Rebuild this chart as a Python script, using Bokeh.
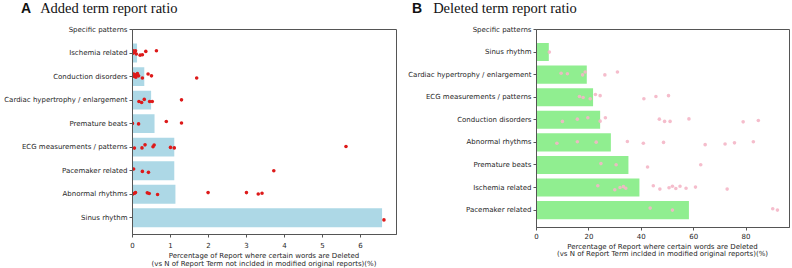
from bokeh.plotting import figure
from bokeh.layouts import row, column
from bokeh.models import Div, FixedTicker, ColumnDataSource
from bokeh.embed import file_html
from bokeh.resources import INLINE

# ---------------- Panel A: added term report ratio ----------------
a_categories = ["Sinus rhythm", "Abnormal rhythms", "Pacemaker related",
                "ECG measurements / patterns", "Premature beats",
                "Cardiac hypertrophy / enlargement", "Conduction disorders",
                "Ischemia related", "Specific patterns"]
a_bar_values = [6.57, 1.13, 1.10, 1.10, 0.58, 0.49, 0.31, 0.12, 0.0]

# per-term ratios shown as points, grouped by category
a_points = {
    "Sinus rhythm": [6.62],
    "Abnormal rhythms": [0.0, 0.05, 0.08, 0.39, 0.44, 0.66, 1.99, 3.0, 3.31, 3.41],
    "Pacemaker related": [0.03, 0.26, 0.42, 3.72],
    "ECG measurements / patterns": [0.05, 0.25, 0.33, 0.54, 0.57, 1.0, 1.1, 5.62],
    "Premature beats": [0.0, 0.16, 0.89, 1.29],
    "Cardiac hypertrophy / enlargement": [0.17, 0.24, 0.31, 0.45, 0.52, 1.29],
    "Conduction disorders": [0.01, 0.03, 0.05, 0.07, 0.09, 0.11, 0.13, 0.16, 0.26, 0.41, 0.5, 1.69],
    "Ischemia related": [0.0, 0.02, 0.05, 0.08, 0.1, 0.2, 0.26, 0.35, 0.63],
}
# strip-plot jitter (in category units) of each point
a_jitter = {
    "Sinus rhythm": [-0.09],
    "Abnormal rhythms": [0.0, 0.04, 0.07, 0.06, 0.03, -0.01, 0.07, 0.07, 0.01, 0.04],
    "Pacemaker related": [0.07, -0.03, -0.07, 0.0],
    "ECG measurements / patterns": [-0.04, -0.03, 0.1, 0.02, 0.09, -0.01, -0.03, 0.03],
    "Premature beats": [0.01, -0.01, 0.09, 0.03],
    "Cardiac hypertrophy / enlargement": [-0.06, -0.1, 0.03, -0.06, -0.06, 0.01],
    "Conduction disorders": [0.04, 0.11, 0.0, 0.07, -0.03, 0.06, 0.13, 0.03, -0.06, 0.11, 0.03, -0.06],
    "Ischemia related": [-0.02, 0.1, 0.03, 0.1, -0.04, -0.09, -0.07, 0.07, 0.1],
}

# ---------------- Panel B: deleted term report ratio ----------------
b_categories = ["Pacemaker related", "Ischemia related", "Premature beats",
                "Abnormal rhythms", "Conduction disorders",
                "ECG measurements / patterns",
                "Cardiac hypertrophy / enlargement", "Sinus rhythm",
                "Specific patterns"]
b_bar_values = [58.2, 39.3, 35.1, 28.4, 24.3, 21.6, 19.2, 4.7, 0.0]

b_points = {
    "Pacemaker related": [43.4, 51.9, 90.2, 92.0],
    "Ischemia related": [23.4, 29.9, 31.9, 33.2, 34.1, 44.6, 47.1, 50.6, 51.9, 53.2, 54.8, 57.1, 60.7, 72.8],
    "Premature beats": [24.6, 30.4, 42.4, 62.7],
    "Abnormal rhythms": [7.8, 15.6, 22.8, 34.7, 40.8, 48.5, 64.4, 72.0, 75.6, 82.8],
    "Conduction disorders": [9.9, 15.6, 19.6, 24.3, 26.3, 46.9, 48.9, 51.0, 58.2, 78.9, 84.7],
    "ECG measurements / patterns": [16.4, 17.8, 20.5, 22.5, 24.3, 41.0, 45.6, 50.4],
    "Cardiac hypertrophy / enlargement": [9.4, 11.8, 17.6, 18.6, 26.1, 30.9],
    "Sinus rhythm": [4.9],
}
b_jitter = {
    "Pacemaker related": [0.09, 0.0, 0.06, 0.0],
    "Ischemia related": [0.08, -0.1, 0.0, 0.04, -0.03, 0.08, -0.07, -0.01, 0.06, -0.04, 0.06, -0.03, 0.02, -0.07],
    "Premature beats": [0.06, 0.01, -0.09, 0.01],
    "Abnormal rhythms": [-0.04, 0.03, 0.01, 0.04, -0.04, 0.0, -0.1, -0.07, -0.02, 0.03],
    "Conduction disorders": [-0.07, 0.03, 0.09, -0.06, 0.09, 0.03, -0.07, -0.07, 0.04, -0.09, -0.03],
    "ECG measurements / patterns": [0.03, -0.01, -0.07, 0.12, 0.07, -0.07, 0.03, 0.07],
    "Cardiac hypertrophy / enlargement": [0.06, 0.04, -0.01, 0.12, -0.01, 0.12],
    "Sinus rhythm": [0.0],
}

a_xticks = [0, 1, 2, 3, 4, 5, 6]
b_xticks = [0, 20, 40, 60, 80]
a_xlabel = ["Percentage of Report where certain words are Deleted",
            "(vs N of Report Term not inclded in modified original reports)(%)"]
b_xlabel = ["Percentage of Report where certain words are Deleted",
            "(vs N of Report Term inclded in modified original reports)(%)"]

TICK_FONT = "DejaVu Sans"
AXIS_COLOR = "#555555"
TEXT_COLOR = "#262626"
HEAD_H = 20


def heading(letter, title, width, letter_x, gap):
    html = (
        f'<div style="white-space:nowrap;line-height:16px;padding-left:{letter_x}px;'
        f'color:#111111">'
        f'<span style="font-family:\'Liberation Sans\';font-weight:bold;'
        f'font-size:14px">{letter}</span>'
        f'<span style="font-family:\'Liberation Serif\';font-size:14.5px;'
        f'margin-left:{gap}px">{title}</span></div>'
    )
    return Div(text=html, width=width, height=HEAD_H, margin=(0, 0, 0, 0))


def axis_title(lines, width, frame_left, frame_w, height, line_h, pad):
    # two-line x-axis title, centred under the plot frame
    body = "".join(f'<div style="line-height:{line_h}px">{t}</div>' for t in lines)
    html = (
        f'<div style="margin-left:{frame_left}px;width:{frame_w}px;'
        f'padding-top:{pad}px;text-align:center;white-space:nowrap;'
        f'font-family:\'{TICK_FONT}\';font-size:7px;color:{TEXT_COLOR}">'
        f'{body}</div>'
    )
    return Div(text=html, width=width, height=height, margin=(0, 0, 0, 0))


def panel(categories, bar_values, points, jitter, xticks, xmax, ymin,
          bar_color, dot_color, dot_alpha, width, height, left, right, top,
          bottom, label_standoff):
    p = figure(width=width, height=height, output_backend="svg",
               toolbar_location=None, x_range=(0, xmax), y_range=(ymin, 8.0),
               min_border_left=left, min_border_right=right,
               min_border_top=top, min_border_bottom=bottom,
               margin=(0, 0, 0, 0))
    p.grid.visible = False
    p.outline_line_color = AXIS_COLOR
    p.outline_line_width = 1
    p.background_fill_color = "white"

    ypos = list(range(len(categories)))
    bars = ColumnDataSource(dict(y=ypos, v=bar_values))
    p.hbar(y="y", right="v", left=0, height=0.8, source=bars,
           fill_color=bar_color, line_color=None)

    xs, ys = [], []
    for i, cat in enumerate(categories):
        for v, j in zip(points.get(cat, []), jitter.get(cat, [])):
            xs.append(v)
            ys.append(i + j)
    p.scatter(x=xs, y=ys, size=3.6, fill_color=dot_color, line_color=None,
              fill_alpha=dot_alpha)

    for ax in (p.xaxis[0], p.yaxis[0]):
        ax.axis_line_color = AXIS_COLOR
        ax.major_tick_line_color = AXIS_COLOR
        ax.minor_tick_line_color = None
        ax.major_tick_out = 3
        ax.major_tick_in = 0
        ax.major_label_text_font = TICK_FONT
        ax.major_label_text_font_size = "7px"
        ax.major_label_text_color = TEXT_COLOR
        ax.major_label_standoff = 2
    p.xaxis.major_label_standoff = label_standoff

    p.yaxis.ticker = FixedTicker(ticks=ypos)
    p.yaxis.major_label_overrides = {i: c for i, c in enumerate(categories)}
    p.xaxis.ticker = FixedTicker(ticks=xticks)
    return p


# panel A: frame 132..396 x 29..234
pa = panel(a_categories, a_bar_values, a_points, a_jitter, a_xticks, 6.95,
           -0.71, "#add8e6", "#dd1a1a", 1.0,
           400, 230, 132, 4, 29 - HEAD_H, 16, 4)
# panel B: frame 136..389 x 29..227
pb = panel(b_categories, b_bar_values, b_points, b_jitter, b_xticks, 96.6,
           -0.77, "#90ee90", "#f4b6c6", 0.9,
           392, 222, 136, 3, 29 - HEAD_H, 15, 2)

head_a = heading("A", "Added term report ratio", 400, 21, 9)
head_b = heading("B", "Deleted term report ratio", 392, 12, 11)
xlab_a = axis_title(a_xlabel, 400, 132, 264, 268 - HEAD_H - 230, 8.4, 2)
xlab_b = axis_title(b_xlabel, 392, 136, 253, 268 - HEAD_H - 222, 7.6, 1.5)

layout = row(column(head_a, pa, xlab_a, spacing=0),
             column(head_b, pb, xlab_b, spacing=0), spacing=0)
open("out.html", "w").write(file_html(layout, INLINE))
